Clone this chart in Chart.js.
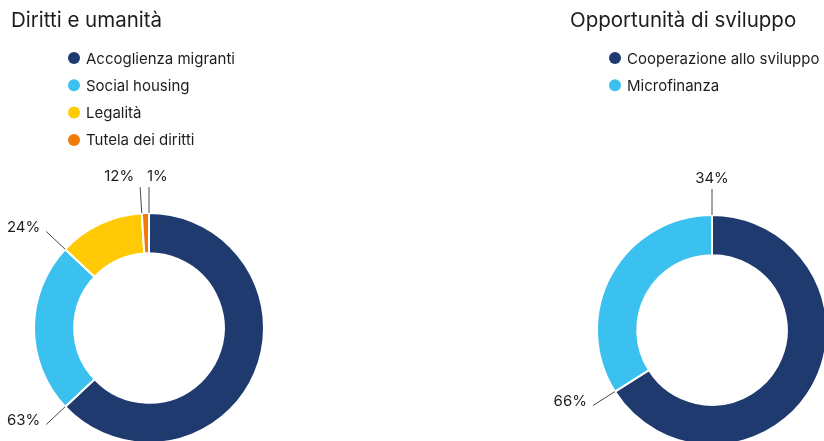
<!DOCTYPE html>
<html lang="it">
<head>
<meta charset="utf-8">
<title>Diritti e umanità / Opportunità di sviluppo</title>
<script src="https://cdn.jsdelivr.net/npm/chart.js@4/dist/chart.umd.min.js"></script>
<style>
  html, body { margin: 0; padding: 0; background: #fff; }
  #wrap { position: relative; width: 824px; height: 441px; overflow: hidden; }
  #wrap canvas { position: absolute; top: 0; }
  #leftChart { left: 0; }
  #rightChart { left: 412px; }
</style>
</head>
<body>
<div id="wrap">
  <canvas id="leftChart" width="412" height="470"></canvas>
  <canvas id="rightChart" width="420" height="470"></canvas>
</div>
<script>
'use strict';

// dati
const leftTitle = 'Diritti e umanità';
const leftLabels = ['Accoglienza migranti', 'Social housing', 'Legalità', 'Tutela dei diritti'];
const leftValues = [63, 24, 12, 1];

const rightTitle = 'Opportunità di sviluppo';
const rightLabels = ['Cooperazione allo sviluppo', 'Microfinanza'];
const rightValues = [66, 34];

const NAVY = '#1e3a6e';
const SKY = '#3bc1ef';
const YELLOW = '#ffca05';
const ORANGE = '#ef7b0b';
const TEXT = '#1d1d1b';
const FONT = 'Inter, "Open Sans", sans-serif';

// titolo + legenda verticale
const headerPlugin = {
  id: 'header',
  afterDraw(chart, args, opts) {
    const ctx = chart.ctx;
    const colors = chart.data.datasets[0].backgroundColor;
    ctx.save();
    ctx.fillStyle = TEXT;
    ctx.textBaseline = 'middle';
    ctx.textAlign = 'left';
    ctx.font = '20.5px ' + FONT;
    ctx.fillText(opts.title, opts.titleX, 21);
    ctx.font = '15px ' + FONT;
    chart.data.labels.forEach((label, i) => {
      const y = 58 + i * 27.3;
      ctx.fillStyle = colors[i];
      ctx.beginPath();
      ctx.arc(opts.legendX, y, 6, 0, Math.PI * 2);
      ctx.fill();
      ctx.fillStyle = TEXT;
      ctx.fillText(label, opts.legendX + 12, y + 1);
    });
    ctx.restore();
  }
};

// etichette % con linea di richiamo sul bordo finale di ogni spicchio
const calloutPlugin = {
  id: 'callouts',
  afterDatasetsDraw(chart, args, opts) {
    const ctx = chart.ctx;
    const meta = chart.getDatasetMeta(0);
    const values = chart.data.datasets[0].data;
    ctx.save();
    ctx.font = '15px ' + FONT;
    ctx.textBaseline = 'middle';
    meta.data.forEach((arc, i) => {
      const p = arc.getProps(['x', 'y', 'outerRadius', 'endAngle'], true);
      const cos = Math.cos(p.endAngle);
      const sin = Math.sin(p.endAngle);
      const r0 = p.outerRadius;
      const r1 = p.outerRadius + 26;
      const x1 = p.x + cos * r1;
      const y1 = p.y + sin * r1;
      ctx.strokeStyle = '#4a4a4a';
      ctx.lineWidth = 1;
      ctx.beginPath();
      ctx.moveTo(p.x + cos * r0, p.y + sin * r0);
      ctx.lineTo(x1, y1);
      ctx.stroke();

      const align = opts.align[i];
      const atTop = Math.abs(cos) < 0.25;
      let tx = x1;
      if (align === 'right') tx = x1 - (atTop ? 6 : 6);
      if (align === 'left') tx = x1 - 2;
      const ty = atTop ? y1 - 11 : y1 - 4;
      ctx.textAlign = align;
      ctx.fillStyle = TEXT;
      ctx.fillText(values[i] + '%', tx, ty);
    });
    ctx.restore();
  }
};

const makeDoughnut = (id, labels, values, colors, padding, header, align) => {
  const el = document.getElementById(id);
  return new Chart(el.getContext('2d'), {
    type: 'doughnut',
    data: {
      labels: labels,
      datasets: [{
        data: values,
        backgroundColor: colors,
        borderColor: '#ffffff',
        borderWidth: 2
      }]
    },
    options: {
      responsive: false,
      animation: false,
      cutout: '65%',
      layout: { padding: padding },
      events: [],
      plugins: {
        legend: { display: false },
        tooltip: { enabled: false },
        header: header,
        callouts: { align: align }
      }
    },
    plugins: [headerPlugin, calloutPlugin]
  });
};

makeDoughnut('leftChart', leftLabels, leftValues,
  [NAVY, SKY, YELLOW, ORANGE],
  { left: 33, right: 147, top: 212, bottom: 26 },
  { title: leftTitle, titleX: 11, legendX: 74 },
  ['right', 'right', 'right', 'left']);

makeDoughnut('rightChart', rightLabels, rightValues,
  [NAVY, SKY],
  { left: 184, right: 4, top: 214, bottom: 24 },
  { title: rightTitle, titleX: 158, legendX: 203 },
  ['right', 'center']);
</script>
</body>
</html>
